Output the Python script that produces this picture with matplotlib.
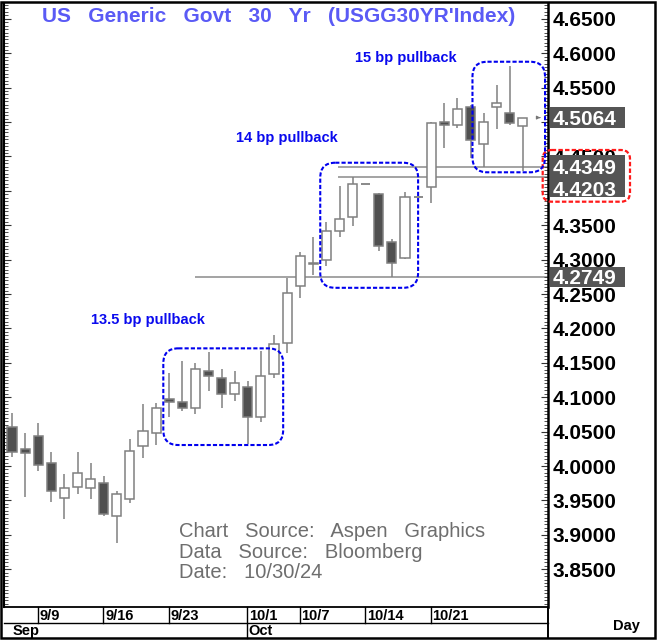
import matplotlib
matplotlib.use("Agg")
import matplotlib.pyplot as plt
from matplotlib.patches import Rectangle, FancyBboxPatch
from matplotlib.ticker import MultipleLocator, FixedLocator, FuncFormatter

plt.rcParams['font.family'] = ['Liberation Sans', 'DejaVu Sans']

# ---- daily OHLC, US Generic Govt 30 Yr yield ----
dates = ["9/5", "9/6", "9/9", "9/10", "9/11", "9/12", "9/13",
         "9/16", "9/17", "9/18", "9/19", "9/20",
         "9/23", "9/24", "9/25", "9/26", "9/27", "9/30",
         "10/1", "10/2", "10/3", "10/4",
         "10/7", "10/8", "10/9", "10/10", "10/11",
         "10/14", "10/15", "10/16", "10/17", "10/18",
         "10/21", "10/22", "10/23", "10/24", "10/25",
         "10/28", "10/29", "10/30"]
opens = [4.0562, 4.0247, 4.0436, 4.0039, 3.9531, 3.9699, 3.9676,
         3.9748, 3.9273, 3.9525, 4.0295, 4.0475,
         4.0969, 4.0926, 4.0847, 4.1381, 4.1283, 4.1047,
         4.1144, 4.0717, 4.1344, 4.1792,
         4.2616, 4.2948, 4.2994, 4.3416, 4.3615,
         4.4099, 4.3949, 4.3251, 4.3028, 4.3910,
         4.4051, 4.4996, 4.4956, 4.5222, 4.4676,
         4.5211, 4.5135, 4.4946]
highs = [4.0766, 4.0484, 4.0621, 4.0208, 3.9879, 4.0208, 4.0039,
         3.9855, 3.9637, 4.0388, 4.0901, 4.0911,
         4.1347, 4.1531, 4.1493, 4.1653, 4.1406, 4.1381,
         4.1240, 4.1672, 4.1904, 4.2737,
         4.3106, 4.3328, 4.3551, 4.4070, 4.4203,
         4.4099, 4.3972, 4.3299, 4.3987, 4.3910,
         4.5000, 4.5272, 4.5349, 4.5240, 4.5126,
         4.5538, 4.5814, 4.5064]
lows = [4.0135, 3.9545, 3.9932, 3.9481, 3.9225, 3.9589, 3.9516,
        3.9278, 3.8885, 3.9467, 4.0121, 4.0305,
        4.0708, 4.0804, 4.0756, 4.1090, 4.0839, 4.0945,
        4.0315, 4.0644, 4.1286, 4.1638,
        4.2438, 4.2783, 4.2907, 4.3324, 4.3488,
        4.4099, 4.3125, 4.2749, 4.3004, 4.3910,
        4.3827, 4.4618, 4.4908, 4.4484, 4.4349,
        4.4895, 4.4952, 4.4281]
closes = [4.0208, 4.0185, 4.0010, 3.9637, 3.9676, 3.9903, 3.9811,
          3.9298, 3.9597, 4.0214, 4.0509, 4.0847,
          4.0935, 4.0847, 4.1406, 4.1312, 4.1047, 4.1202,
          4.0717, 4.1308, 4.1780, 4.2510,
          4.3052, 4.2938, 4.3416, 4.3586, 4.4099,
          4.4099, 4.3201, 4.2955, 4.3910, 4.3910,
          4.4990, 4.4956, 4.5186, 4.4734, 4.4996,
          4.5283, 4.4981, 4.5064]

price_ticks = [3.85, 3.90, 3.95, 4.00, 4.05, 4.10, 4.15, 4.20, 4.25, 4.30,
               4.35, 4.40, 4.45, 4.50, 4.55, 4.60, 4.65]
hidden_ticks = [4.40, 4.50]   # sit fully under the highlighted price boxes
week_labels = ["9/9", "9/16", "9/23", "10/1", "10/7", "10/14", "10/21"]
month_labels = ["Sep", "Oct"]
month_starts = ["9/5", "10/1"]
support_levels = [4.2749, 4.4349, 4.4203]
last_price = 4.5064
pullback_labels = ["13.5 bp pullback", "14 bp pullback", "15 bp pullback"]
title = "US   Generic   Govt   30   Yr   (USGG30YR'Index)"
source_lines = ["Chart   Source:   Aspen   Graphics",
                "Data   Source:   Bloomberg",
                "Date:   10/30/24"]

# ---- colours ----
WICK = "#808080"
EDGE = "#808080"
DARK = "#505050"
BLUE = "#0a0aee"
TITLE_C = "#5a5af5"
BOX_C = "#555555"

W, H, DPI = 658, 641, 100
fig = plt.figure(figsize=(W / DPI, H / DPI), dpi=DPI)
fig.patch.set_facecolor("white")

# price panel, in pixel edges
L, R, T, B = 4, 548, 3, 607
ax = fig.add_axes([L / W, 1 - B / H, (R - L) / W, (B - T) / H])
ax.set_facecolor("white")
step = 13.1          # pixels per bar
x_first = 12         # pixel of first bar
ppu = 688            # pixels per 1.00 of yield
y_ref, v_ref = 18.8, 4.65
ax.set_xlim((L - x_first) / step, (R - x_first) / step)
ax.set_ylim(v_ref - (B - y_ref) / ppu, v_ref - (T - y_ref) / ppu)

bw = 0.69
for i, (o, h, l, c) in enumerate(zip(opens, highs, lows, closes)):
    if h == l:
        ax.hlines(c, i - bw / 2, i + bw / 2, color=WICK, lw=1.3, zorder=3)
        continue
    ax.vlines(i, l, h, color=WICK, lw=1.1, zorder=2)
    lo_b, hi_b = min(o, c), max(o, c)
    fc = "white" if c >= o else DARK
    ax.add_patch(Rectangle((i - bw / 2, lo_b), bw, max(hi_b - lo_b, 0.0012),
                           facecolor=fc, edgecolor=EDGE, lw=1.1, zorder=3))

# support lines
x_right = ax.get_xlim()[1]
ax.hlines(support_levels[0], 14.0, x_right, color="#8a8a8a", lw=1.1, zorder=1)
ax.hlines(support_levels[1:], 24.9, x_right, color="#8a8a8a", lw=1.1, zorder=1)

# last price arrow
ax.annotate("", xy=(40.55, last_price), xytext=(40.05, last_price),
            arrowprops=dict(arrowstyle="-|>", color="#777777", lw=0.8,
                            mutation_scale=5), annotation_clip=False)

# pullback annotations
for txt, (xi, yv) in zip(pullback_labels, [(10.4, 4.2122), (21.0, 4.4767), (30.1, 4.593)]):
    ax.text(xi, yv, txt, color=BLUE, fontsize=10.5, fontweight="bold",
            ha="center", va="center")

# axes styling
ax.set_xticks([])
ax.yaxis.set_major_locator(FixedLocator(price_ticks))
ax.yaxis.set_minor_locator(MultipleLocator(0.005))
ax.yaxis.set_major_formatter(FuncFormatter(
    lambda v, _: "" if any(abs(v - h) < 1e-6 for h in hidden_ticks) else f"{v:.4f}"))
ax.tick_params(axis="y", which="both", direction="in", left=True, right=True,
               labelleft=False, labelright=True, color="#333333")
ax.tick_params(axis="y", which="major", length=5, width=0.8, pad=3.5, labelsize=15)
ax.tick_params(axis="y", which="minor", length=3, width=0.6)
for lab in ax.get_yticklabels():
    lab.set_fontweight("bold")
ax.spines["top"].set_visible(False)
ax.spines["left"].set_linewidth(1.5)
ax.spines["right"].set_linewidth(1.8)
ax.spines["bottom"].set_linewidth(1.3)

# ---- overlay in pixel units ----
ov = fig.add_axes([0, 0, 1, 1], zorder=5)
ov.set_xlim(0, W)
ov.set_ylim(H, 0)
ov.axis("off")
ov.patch.set_alpha(0)


def px(i, v):
    x, y = ax.transData.transform((i, v))
    return x, H - y


# outer frame
ov.add_patch(Rectangle((1.2, 2.2), 654, 636, fill=False, lw=1.8, edgecolor="black"))
ov.plot([L, R], [623, 623], color="black", lw=1.0)
ov.plot([R, R], [B, 638], color="black", lw=1.4)

# date row
for lbl in week_labels:
    x, _ = px(dates.index(lbl) - 0.05, 4.0)
    y_end = 638 if lbl in month_starts else 623
    ov.plot([x, x], [B, y_end], color="black", lw=1.0)
    ov.text(x + 2, 615.5, lbl, fontsize=10.5, fontweight="bold", va="center", ha="left")
for lbl, d in zip(month_labels, month_starts):
    x, _ = px(dates.index(d) - 0.05, 4.0)
    ov.text(x + 1.5, 630.8, lbl, fontsize=10.5, fontweight="bold", va="center", ha="left")
ov.text(613, 626, "Day", fontsize=10.5, fontweight="bold", va="center", ha="left")

# title
ov.text(41.7, 21.7, title, color=TITLE_C, fontsize=15, fontweight="bold",
        ha="left", va="baseline")

# source block
for k, line in enumerate(source_lines):
    ov.text(179.3, 537.3 + 20.5 * k, line, color="#6e6e6e", fontsize=14.5,
            ha="left", va="baseline")

# highlighted price labels
for v in [last_price, support_levels[0]]:
    _, y = px(0, v)
    ov.add_patch(Rectangle((550, y - 10.3), 74.5, 20.6, facecolor=BOX_C, edgecolor="none"))
    ov.text(552.7, y, f"{v:.4f}", color="white", fontsize=15, fontweight="bold",
            ha="left", va="center_baseline")
_, y1 = px(0, support_levels[1])
_, y2 = px(0, support_levels[2])
y2 += 11.3
ov.add_patch(Rectangle((550, y1 - 11.5), 75, (y2 + 8.5) - (y1 - 11.5),
                       facecolor=BOX_C, edgecolor="none"))
for v, y in [(support_levels[1], y1), (support_levels[2], y2)]:
    ov.text(552.7, y, f"{v:.4f}", color="white", fontsize=15, fontweight="bold",
            ha="left", va="center_baseline")
ov.add_patch(FancyBboxPatch((542.7, 150), 87.3, 51.7,
                            boxstyle="round,pad=0,rounding_size=9",
                            fill=False, edgecolor="#ff1a1a", lw=1.6,
                            linestyle=(0, (2, 1))))

# pullback boxes
for (i0, i1, vlo, vhi) in [(11.55, 20.7, 4.0305, 4.171),
                           (23.53, 31.0, 4.259, 4.4408),
                           (35.15, 40.69, 4.4269, 4.5876)]:
    xa, ya = px(i0, vhi)
    xb, yb = px(i1, vlo)
    ov.add_patch(FancyBboxPatch((xa, ya), xb - xa, yb - ya,
                                boxstyle="round,pad=0,rounding_size=15",
                                fill=False, edgecolor="#0000ee", lw=1.5,
                                linestyle=(0, (2, 1))))

fig.savefig("out.png", dpi=DPI, facecolor="white")
